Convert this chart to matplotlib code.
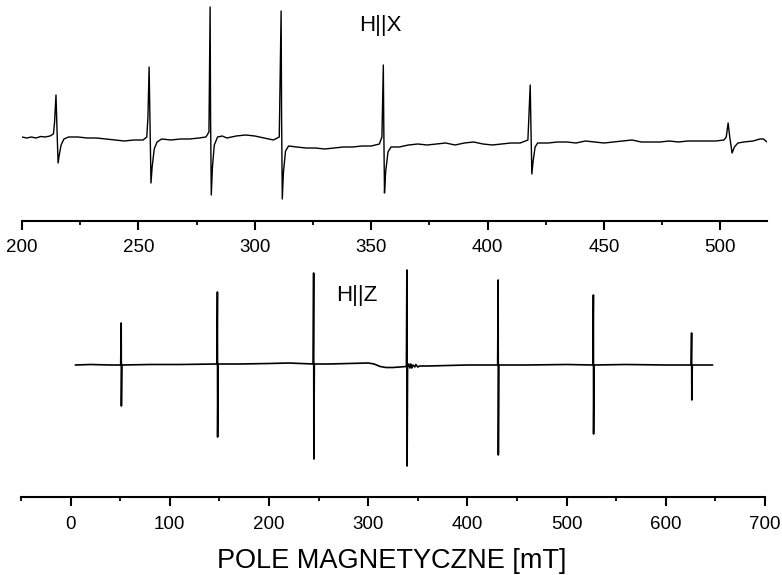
import matplotlib.pyplot as plt
from matplotlib.ticker import MultipleLocator

plt.rcParams['font.family'] = ['Liberation Sans', 'DejaVu Sans']

# widmo H||X (pole w mT, natezenie w jednostkach umownych)
x_hx = [200, 202, 204, 206, 208, 210, 212, 213.5, 214.0, 214.6, 215.0, 215.5, 216.0, 216.8, 218,
        220, 224, 228, 232, 236, 240, 244, 248, 252, 253.6, 254.1, 254.6, 255.0, 255.4, 255.9, 256.8,
        258, 260, 264, 268, 272, 276, 279, 280.3, 280.8, 281.0, 281.3, 281.8, 282.6, 284, 286, 288,
        292, 296, 300, 304, 308, 310.5, 311.3, 311.5, 311.8, 312.3, 313.2, 314.5, 318, 322, 326, 330,
        334, 338, 342, 346, 350, 353.5, 354.6, 355.2, 355.4, 355.7, 356.2, 357.2, 358.5, 362, 366,
        370, 374, 378, 382, 386, 390, 394, 398, 402, 406, 410, 414, 417.3, 418.3, 418.6, 419.0, 419.5,
        420.4, 421.5, 426, 430, 434, 438, 442, 446, 450, 454, 458, 462, 466, 470, 474, 478, 482, 486,
        490, 494, 498, 501.5, 502.5, 503.3, 504.0, 505.0, 506, 507.5, 510, 514, 517, 518.5, 520]
y_hx = [0, -1, 0, -1, 0.5, 0, 1, 3, 15, 42, 10, -26, -18, -8, -2,
        0, 0, -1, -1, -2, -3, -4, -3, -3, 0, 20, 70, 10, -46, -30, -12,
        -5, -2, -3, -2, -2, -1, 0, 5, 130, 20, -58, -30, -8, 0, 1, -1,
        1, 2, 1, -1, -3, 0, 126, 20, -62, -35, -14, -9, -10, -11, -11, -12,
        -11, -10, -10, -9, -9, -7, 0, 72, 10, -56, -35, -15, -10, -10, -8,
        -7, -8, -7, -6, -8, -6, -5, -7, -8, -7, -6, -6, -3, 52, 10, -37, -25,
        -10, -6, -6, -5, -5, -6, -4, -5, -6, -5, -4, -3, -5, -5, -5, -4, -5, -4,
        -4, -4, -4, -3, 0, 14, 0, -16, -10, -6, -5, -4, -2, -2, -5]

# widmo H||Z
x_hz = [5, 20, 40, 50.5, 51, 51.2, 51.7, 80, 110, 147.5, 148, 148.2, 148.7, 170, 200, 220,
        244.5, 245, 245.2, 245.7, 260, 280, 300, 306, 312, 318, 325, 332, 338.5, 339, 339.2,
        339.7, 341, 342, 343, 344, 345, 347, 348, 350, 352, 360, 380, 400, 430.5, 431, 431.2,
        431.7, 460, 500, 526.5, 527, 527.2, 527.7, 560, 600, 625.5, 626, 626.2, 626.7, 647]
y_hz = [0, 0.5, 0, 0, 42, -41, 0, 0.5, 0.5, 1, 73, -72, 1, 1, 1.5, 2,
        1, 92, -94, 1, 1, 1.5, 2, 1, -1.5, -2.5, -2.5, -2, -1.5, 95, -101,
        -2, 1, -3, 1, -3, 0, -2, 0.5, -2, -1, -1, -0.5, 0, 0, 85, -90,
        0, 0, 0.5, 0, 70, -69, 0, 0.5, 0, 0, 32, -35, 0, 0]

W, H = 782, 575
fig = plt.figure(figsize=(W / 100, H / 100), dpi=100)


def styl(ax):
	for s in ['left', 'right', 'top']:
		ax.spines[s].set_visible(False)
	ax.spines['bottom'].set_linewidth(1.5)
	ax.set_yticks([])
	ax.tick_params(axis='x', which='major', direction='out', length=6.5, width=1.5, labelsize=13.5)
	ax.tick_params(axis='x', which='minor', direction='out', length=3, width=1.3)
	ax.patch.set_alpha(0)


# gorny panel
ax1 = fig.add_axes([22 / W, 1 - 221 / H, (767 - 22) / W, 221 / H])
ax1.plot(x_hx, y_hx, color='black', lw=1.0)
ax1.set_xlim(200, 520)
ax1.set_ylim(-84, 137)
ax1.xaxis.set_major_locator(MultipleLocator(50))
ax1.xaxis.set_minor_locator(MultipleLocator(25))
styl(ax1)
ax1.tick_params(axis='x', which='major', pad=6.5)

# dolny panel
ax2 = fig.add_axes([21 / W, 1 - 497 / H, (765 - 21) / W, 247 / H])
ax2.plot(x_hz, y_hz, color='black', lw=1.2)
ax2.set_xlim(-50, 700)
ax2.set_ylim(-132, 115)
ax2.xaxis.set_major_locator(MultipleLocator(100))
ax2.xaxis.set_minor_locator(MultipleLocator(50))
styl(ax2)
ax2.tick_params(axis='x', which='major', pad=7.5)

fig.text(380 / W, 1 - 25 / H, 'H||X', ha='center', va='center', fontsize=16)
fig.text(357 / W, 1 - 295 / H, 'H||Z', ha='center', va='center', fontsize=16)
fig.text(391.5 / W, 1 - 561 / H, 'POLE MAGNETYCZNE [mT]', ha='center', va='center', fontsize=19.5)

fig.savefig('out.png', dpi=100)
